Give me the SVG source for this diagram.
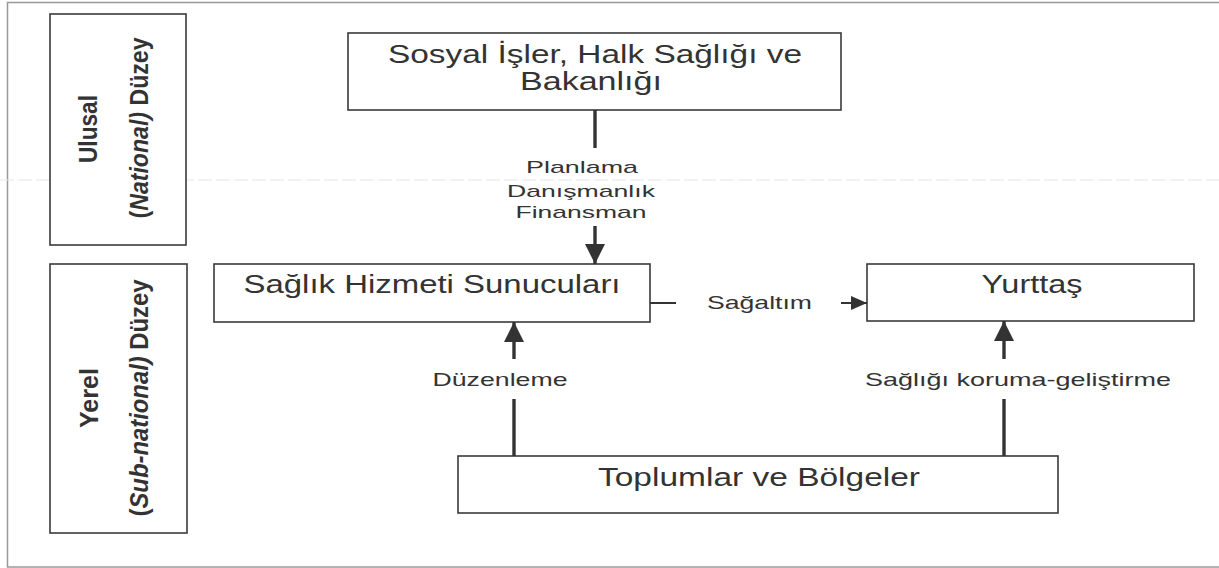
<svg xmlns="http://www.w3.org/2000/svg" width="1219" height="568" viewBox="0 0 1219 568">
<defs>
<style>
.box{fill:#fff;stroke:#3a3a3a;stroke-width:1.6}
.t{font-family:"Liberation Sans",Arial,sans-serif;fill:#333;text-anchor:middle}
.big{font-size:25px}
.lbl{font-size:19px}
.sm{font-size:17px}
.v{font-family:"Liberation Sans",Arial,sans-serif;font-weight:bold;font-size:26px;fill:#333;text-anchor:middle}
.thick{stroke:#333;stroke-width:3.4;fill:none}
.thin{stroke:#333;stroke-width:2;fill:none}
</style>
<marker id="ah" markerUnits="userSpaceOnUse" markerWidth="20" markerHeight="20" viewBox="0 0 18 18" refX="18" refY="9" orient="auto">
<path d="M0,0 L18,9 L0,18 z" fill="#333"/>
</marker>
<marker id="ahs" markerUnits="userSpaceOnUse" markerWidth="16" markerHeight="14" viewBox="0 0 16 14" refX="16" refY="7" orient="auto">
<path d="M0,0 L16,7 L0,14 z" fill="#333"/>
</marker>
</defs>
<rect width="1219" height="568" fill="#fff"/>
<g id="frame" stroke="#999" stroke-width="1.5" fill="none">
<path d="M1219,2.5 H7.5 V567 H1219"/>
<line x1="0" y1="180" x2="1219" y2="180" stroke="#e6e6e6" stroke-width="1" stroke-dasharray="14 4"/>
</g>
<g id="national-level">
<rect class="box" x="50" y="14" width="136" height="231"/>
<text class="v" transform="translate(97,129) rotate(-90)" textLength="68" lengthAdjust="spacingAndGlyphs">Ulusal</text>
<text class="v" transform="translate(148,128) rotate(-90)" textLength="181" lengthAdjust="spacingAndGlyphs">(<tspan font-style="italic">National)</tspan> Düzey</text>
</g>
<g id="subnational-level">
<rect class="box" x="50" y="264" width="137" height="269"/>
<text class="v" transform="translate(98,398) rotate(-90)" textLength="60" lengthAdjust="spacingAndGlyphs">Yerel</text>
<text class="v" transform="translate(148,398) rotate(-90)" textLength="237" lengthAdjust="spacingAndGlyphs">(<tspan font-style="italic">Sub-national)</tspan> Düzey</text>
</g>
<g id="ministry">
<rect class="box" x="348" y="33" width="493" height="77"/>
<text class="t big" x="595" y="63" textLength="414" lengthAdjust="spacingAndGlyphs">Sosyal İşler, Halk Sağlığı ve</text>
<text class="t big" x="591" y="90" textLength="142" lengthAdjust="spacingAndGlyphs">Bakanlığı</text>
</g>
<g id="providers">
<rect class="box" x="214" y="264" width="436" height="58"/>
<text class="t big" x="432" y="293" textLength="377" lengthAdjust="spacingAndGlyphs">Sağlık Hizmeti Sunucuları</text>
</g>
<g id="citizen">
<rect class="box" x="867" y="264" width="327" height="57"/>
<text class="t big" x="1032" y="293" textLength="101" lengthAdjust="spacingAndGlyphs">Yurttaş</text>
</g>
<g id="communities">
<rect class="box" x="458" y="456" width="600" height="57"/>
<text class="t big" x="759" y="486" textLength="322" lengthAdjust="spacingAndGlyphs">Toplumlar ve Bölgeler</text>
</g>
<g id="connectors">
<line class="thick" x1="595" y1="110" x2="595" y2="148"/>
<line class="thick" x1="595" y1="226" x2="595" y2="264" marker-end="url(#ah)"/>
<text class="t sm" x="582" y="173" textLength="112" lengthAdjust="spacingAndGlyphs">Planlama</text>
<text class="t sm" x="581" y="197" textLength="148" lengthAdjust="spacingAndGlyphs">Danışmanlık</text>
<text class="t sm" x="581" y="218" textLength="131" lengthAdjust="spacingAndGlyphs">Finansman</text>
<line class="thin" x1="650" y1="303" x2="676" y2="303"/>
<line class="thin" x1="841" y1="303" x2="867" y2="303" marker-end="url(#ahs)"/>
<text class="t lbl" x="759.5" y="309" textLength="105" lengthAdjust="spacingAndGlyphs">Sağaltım</text>
<line class="thick" x1="514" y1="456" x2="514" y2="399"/>
<line class="thick" x1="514" y1="359" x2="514" y2="322" marker-end="url(#ah)"/>
<text class="t lbl" x="500" y="386" textLength="135" lengthAdjust="spacingAndGlyphs">Düzenleme</text>
<line class="thick" x1="1004" y1="456" x2="1004" y2="399"/>
<line class="thick" x1="1004" y1="359" x2="1004" y2="321" marker-end="url(#ah)"/>
<text class="t lbl" x="1018" y="386" textLength="306" lengthAdjust="spacingAndGlyphs">Sağlığı koruma-geliştirme</text>
</g>
</svg>
